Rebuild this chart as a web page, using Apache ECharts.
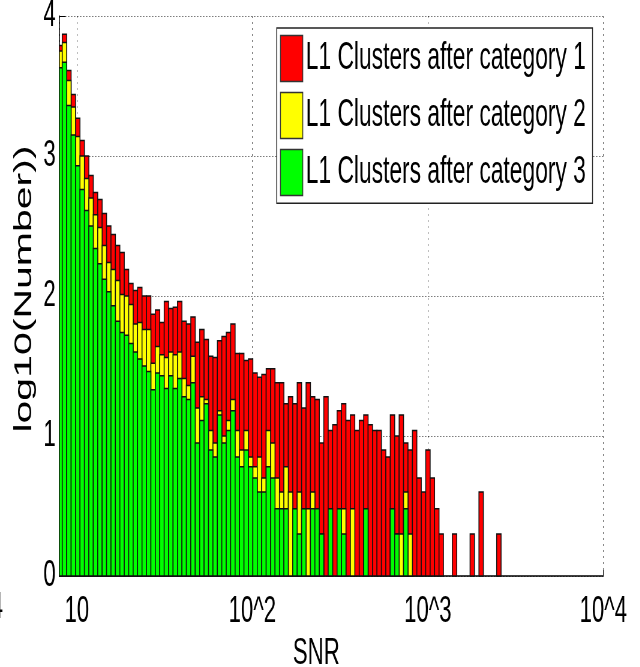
<!DOCTYPE html>
<html>
<head>
<meta charset="utf-8">
<script src="https://cdn.jsdelivr.net/npm/echarts@6/dist/echarts.min.js"></script>
<style>
  html, body { margin: 0; padding: 0; background: #fff; overflow: hidden; width: 640px; height: 667px; }
  /* the figure is laid out wide and then compressed horizontally */
  #chart { position: absolute; left: 0; top: 0; width: 1067px; height: 667px;
           transform: scaleX(0.6); transform-origin: 0 0; }
</style>
</head>
<body>
<div id="chart"></div>
<script>
// Histogram binning in log10(SNR)
const LOG_START = 0.8914;   // left edge of the first bin
const BIN_WIDTH = 0.02526;  // bin width in decades (100 bins)

const seriesNames = [
  'L1 Clusters after category 1',
  'L1 Clusters after category 2',
  'L1 Clusters after category 3'
];

// log10(count) per bin, category 1 (all clusters)
const cat1 = [
  3.79, 3.87, 3.61, 3.44, 3.27, 3.11, 3.00, 2.86, 2.74, 2.69,
  2.59, 2.50, 2.44, 2.36, 2.31, 2.19, 2.09, 2.04, 2.06, 2.00,
  2.00, 1.87, 1.90, 1.81, 1.96, 1.91, 1.92, 1.96, 1.82, 1.80,
  1.85, 1.67, 1.76, 1.69, 1.57, 1.56, 1.68, 1.71, 1.74, 1.80,
  1.59, 1.59, 1.54, 1.55, 1.45, 1.42, 1.44, 1.48, 1.48, 1.38,
  1.38, 1.23, 1.28, 1.23, 1.38, 1.20, 1.38, 1.28, 1.26, 0.95,
  1.28, 1.04, 1.08, 1.18, 1.23, 1.11, 1.15, 1.04, 1.11, 1.15,
  1.08, 1.04, 1.04, 0.90, 0.85, 1.15, 1.00, 1.15, 0.95, 0.90,
  1.04, 0.70, 0.60, 0.90, 0.70, 0.48, 0.30, 0, 0, 0.30,
  0, 0, 0, 0.30, 0, 0.60, 0, 0, 0, 0.30
];

// log10(count) per bin, category 2
const cat2 = [
  3.75, 3.81, 3.54, 3.35, 3.14, 3.00, 2.84, 2.70, 2.58, 2.49,
  2.36, 2.24, 2.19, 2.11, 2.01, 2.00, 1.94, 1.80, 1.81, 1.76,
  1.76, 1.52, 1.64, 1.58, 1.56, 1.60, 1.58, 1.60, 1.41, 1.36,
  1.57, 1.20, 1.28, 1.26, 1.04, 0.95, 1.18, 1.00, 1.11, 1.26,
  1.04, 0.90, 1.04, 0.85, 0.78, 0.85, 0.70, 1.04, 0.95, 0.70,
  0.60, 0.78, 0.60, 0.48, 0.60, 0.48, 0.48, 0.60, 0.48, 0.30,
  0, 0.48, 0, 0.48, 0.48, 0, 0.48, 0, 0, 0.48,
  0, 0, 0, 0, 0, 0.48, 0.30, 0.30, 0.60, 0.30,
  0, 0, 0, 0, 0, 0, 0, 0, 0, 0,
  0, 0, 0, 0, 0, 0, 0, 0, 0, 0
];

// log10(count) per bin, category 3
const cat3 = [
  3.63, 3.67, 3.36, 3.15, 2.93, 2.76, 2.61, 2.50, 2.34, 2.23,
  2.12, 2.03, 1.93, 1.82, 1.74, 1.72, 1.66, 1.60, 1.55, 1.50,
  1.46, 1.33, 1.45, 1.43, 1.34, 1.43, 1.34, 1.41, 1.28, 1.26,
  1.38, 0.95, 1.11, 1.23, 0.90, 0.85, 1.15, 0.95, 1.04, 1.18,
  0.85, 0.78, 0.90, 0.78, 0.70, 0.60, 0.60, 0.78, 0.70, 0.48,
  0.48, 0.48, 0, 0.48, 0.30, 0.48, 0, 0.48, 0.48, 0.30,
  0, 0.48, 0, 0.48, 0.30, 0, 0, 0, 0, 0.48,
  0, 0, 0, 0, 0, 0.48, 0.30, 0, 0.48, 0,
  0, 0, 0, 0, 0, 0, 0, 0, 0, 0,
  0, 0, 0, 0, 0, 0, 0, 0, 0, 0
];

const seriesColors = ['#ff0000', '#ffff00', '#00ff00'];
const xTickLabels = { 1: '10', 2: '10^2', 3: '10^3', 4: '10^4' };

const SX = 0.6;                      // horizontal compression of the page
const vx = px => px / SX;            // screen px -> layout px (horizontal)
const FONT = '"Liberation Sans", Arial, Helvetica, sans-serif';

function binData(values) {
  return values.map((v, i) => [Math.pow(10, LOG_START + (i + 0.5) * BIN_WIDTH), v, i]);
}

function renderBin(params, api) {
  const h = api.value(1);
  if (!(h > 0)) return null;
  const i = api.value(2);
  const lo = Math.pow(10, LOG_START + i * BIN_WIDTH);
  const hi = Math.pow(10, LOG_START + (i + 1) * BIN_WIDTH);
  const p0 = api.coord([lo, h]);
  const p1 = api.coord([hi, 0]);
  const shape = echarts.graphic.clipRectByRect(
    { x: p0[0], y: p0[1], width: p1[0] - p0[0], height: p1[1] - p0[1] },
    params.coordSys
  );
  if (!shape) return null;
  return {
    type: 'rect',
    shape: shape,
    style: { fill: api.visual('color'), stroke: '#111', lineWidth: 1.5 }
  };
}

const chart = echarts.init(document.getElementById('chart'), null, { renderer: 'canvas' });

chart.setOption({
  animation: false,
  backgroundColor: '#fff',
  textStyle: { fontFamily: FONT },
  grid: {
    left: vx(59.3), right: 1067 - vx(603.3), top: 16, bottom: 91,
    containLabel: false, outerBoundsMode: 'none'
  },
  legend: {
    orient: 'vertical',
    left: vx(276.7),
    top: 28,
    icon: 'rect',
    itemWidth: vx(22.3),
    itemHeight: 46,
    itemGap: 9.5,
    padding: [6.7, vx(6.7), 7, vx(3.3)],
    backgroundColor: '#fff',
    borderColor: '#222',
    borderWidth: 1.4,
    borderRadius: 0,
    itemStyle: { borderColor: '#333', borderWidth: 1.5 },
    textStyle: { fontSize: 38, color: '#000', fontFamily: FONT },
    data: seriesNames
  },
  xAxis: {
    type: 'log',
    logBase: 10,
    min: Math.pow(10, 0.9),
    max: 10000,
    name: 'SNR',
    nameLocation: 'middle',
    nameGap: 53,
    nameTextStyle: { fontSize: 37, color: '#000', fontFamily: FONT, padding: [0, 50, 0, 0] },
    axisLine: { show: true, lineStyle: { color: '#000', width: 1.5 } },
    axisTick: { show: true, inside: true, length: 6, lineStyle: { color: '#000' } },
    minorTick: { show: false },
    axisLabel: {
      fontSize: 37, color: '#000', margin: 17, fontFamily: FONT,
      formatter: v => {
        const e = Math.round(Math.log10(v) * 1000) / 1000;
        return Number.isInteger(e) && xTickLabels[e] ? xTickLabels[e] : '';
      }
    },
    splitLine: { show: true, lineStyle: { color: '#555', width: 1, type: [2, 4] } }
  },
  yAxis: {
    type: 'value',
    min: 0,
    max: 4,
    interval: 1,
    name: 'log10(Number))',
    nameLocation: 'middle',
    nameRotate: 90,
    nameGap: 32,
    nameTextStyle: { fontSize: 41, color: '#000', fontFamily: FONT, padding: [0, 0, 0, 14] },
    axisLine: { show: true, lineStyle: { color: '#000', width: 1.5 } },
    axisTick: { show: true, inside: true, length: vx(6), lineStyle: { color: '#000' } },
    axisLabel: { fontSize: 37, color: '#000', margin: 6, fontFamily: FONT },
    splitLine: { show: true, lineStyle: { color: '#444', width: 1, type: [vx(1), vx(2)] } }
  },
  graphic: [{
    type: 'text',
    x: vx(3),
    y: 608,
    style: { text: '10^4', align: 'right', verticalAlign: 'middle', fontSize: 37, fill: '#000', fontFamily: FONT }
  }],
  series: [cat1, cat2, cat3].map((vals, k) => ({
    type: 'custom',
    name: seriesNames[k],
    coordinateSystem: 'cartesian2d',
    renderItem: renderBin,
    itemStyle: { color: seriesColors[k], borderColor: '#333', borderWidth: 1.5 },
    encode: { x: 0, y: 1 },
    z: 2 + k,
    data: binData(vals)
  }))
});
</script>
</body>
</html>
